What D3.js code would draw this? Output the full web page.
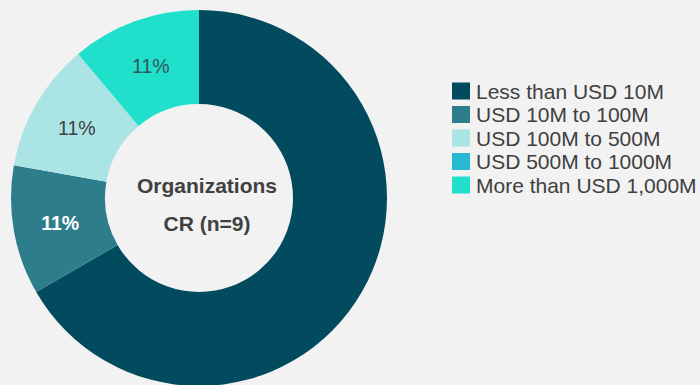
<!DOCTYPE html>
<html>
<head>
<meta charset="utf-8">
<script src="https://cdn.jsdelivr.net/npm/d3@7"></script>
<style>
  html, body { margin: 0; padding: 0; background: #f2f2f2; }
  svg { display: block; }
  text { font-family: "Liberation Sans", Arial, sans-serif; }
</style>
</head>
<body>
<svg id="chart" width="700" height="385"></svg>
<script>
// Revenue bands of the organizations surveyed
const categories = [
  "Less than USD 10M",
  "USD 10M to 100M",
  "USD 100M to 500M",
  "USD 500M to 1000M",
  "More than USD 1,000M"
];
const counts = [6, 1, 1, 0, 1];
const colors = ["#024b5e", "#2e7d8d", "#abe4e4", "#25b9d3", "#20dfcb"];
const labelColors = [null, "#ffffff", "#404040", "#404040", "#2f5559"];
const centerLines = ["Organizations", "CR (n=9)"];

const total = d3.sum(counts);
const pct = v => Math.round(v / total * 100) + "%";

const svg = d3.select("#chart");
const cx = 199, cy = 198, outerR = 188, innerR = 94;

const pie = d3.pie().sort(null).value(d => d.value);
const arcs = pie(categories.map((c, i) => ({ name: c, value: counts[i], i })));
const arc = d3.arc().innerRadius(innerR).outerRadius(outerR);

const g = svg.append("g").attr("transform", `translate(${cx},${cy})`);

g.selectAll("path.slice")
  .data(arcs)
  .join("path")
  .attr("class", "slice")
  .attr("d", arc)
  .attr("fill", d => colors[d.data.i]);

// Percent labels on the small slices; the dominant slice carries none
g.selectAll("text.pct")
  .data(arcs.filter(d => d.value > 0 && labelColors[d.data.i]))
  .join("text")
  .attr("class", "pct")
  .attr("transform", d => `translate(${arc.centroid(d)})`)
  .attr("text-anchor", "middle")
  .attr("dy", "0.38em")
  .attr("font-size", 19.5)
  .attr("font-weight", d => labelColors[d.data.i] === "#ffffff" ? "bold" : "normal")
  .attr("fill", d => labelColors[d.data.i])
  .text(d => pct(d.value));

// Center caption
svg.selectAll("text.center")
  .data(centerLines)
  .join("text")
  .attr("class", "center")
  .attr("x", 207)
  .attr("y", (d, i) => 193 + i * 38)
  .attr("text-anchor", "middle")
  .attr("font-size", 21)
  .attr("font-weight", "bold")
  .attr("fill", "#404040")
  .text(d => d);

// Legend
const legendY = d3.scalePoint().domain(categories).range([91, 185]);
const legend = svg.append("g");
const items = legend.selectAll("g")
  .data(categories)
  .join("g")
  .attr("transform", d => `translate(452,${legendY(d)})`);
items.append("rect")
  .attr("x", 0).attr("y", -8.5)
  .attr("width", 18).attr("height", 17)
  .attr("fill", (d, i) => colors[i]);
items.append("text")
  .attr("x", 24)
  .attr("y", 0)
  .attr("dy", "0.36em")
  .attr("font-size", 21)
  .attr("fill", "#404040")
  .text(d => d);
</script>
</body>
</html>
